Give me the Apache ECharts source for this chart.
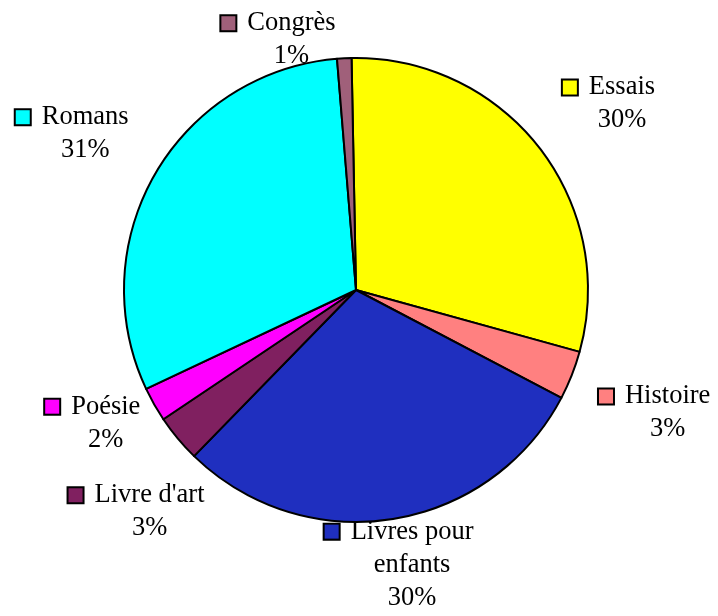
<!DOCTYPE html>
<html><head><meta charset="utf-8">
<script src="https://cdn.jsdelivr.net/npm/echarts@6/dist/echarts.min.js"></script>
<style>html,body{margin:0;padding:0;background:#fff}#c{width:718px;height:616px}</style>
</head><body><div id="c"></div>
<script>
// ---- data ----
const categories = ['Essais', 'Histoire', 'Livres pour enfants', "Livre d'art", 'Poésie', 'Romans', 'Congrès'];
const shares = [29.6, 3.4, 29.6, 3.3, 2.4, 30.7, 1.0];

// ---- style ----
const colors = ['#FFFF00', '#FF8080', '#1F2FBF', '#802060', '#FF00FF', '#00FFFF', '#A0607A'];
const labelDist = [314, 323, 278, 312, 295, 324, 262];      // label distance from centre (px)
const labelNudge = [1.5, 0.8, 0.1, -5.5, 2.7, -1.2, -14.3]; // angular nudge (deg)
const CX = 356, CY = 290, R = 232, START = -1.1;            // START: deg clockwise from 12 o'clock
const FONT = 'Liberation Serif';
const MARK = 14, GAP = 12;

const total = shares.reduce((a, b) => a + b, 0);
const mids = []; let acc = 0;
shares.forEach(v => { mids.push(START + (acc + v / 2) / total * 360); acc += v; });

const rich = {
  n: { fontFamily: FONT, fontSize: 26.5, lineHeight: 33, color: '#000', align: 'center' },
  p: { fontFamily: FONT, fontSize: 26.5, lineHeight: 33, color: '#000', align: 'center' },
  g: { width: GAP, align: 'center' },
  s: { width: MARK + GAP, align: 'center' }
};
colors.forEach((c, i) => {
  rich['m' + i] = { width: MARK, height: MARK, backgroundColor: c, borderColor: '#000', borderWidth: 2, align: 'center' };
});

function wrapName(name) {
  if (name.length > 14 && name.indexOf(' ') > 0) {
    const k = name.lastIndexOf(' ');
    return [name.slice(0, k), name.slice(k + 1)];
  }
  return [name];
}

const chart = echarts.init(document.getElementById('c'), null, { renderer: 'canvas' });
chart.setOption({
  backgroundColor: '#fff',
  animation: false,
  series: [{
    type: 'pie',
    center: [CX, CY],
    radius: [0, R],
    startAngle: 90 - START,
    clockwise: true,
    avoidLabelOverlap: false,
    percentPrecision: 0,
    data: categories.map((n, i) => ({ name: n, value: shares[i], itemStyle: { color: colors[i] } })),
    itemStyle: { borderColor: '#000', borderWidth: 2 },
    emphasis: { disabled: true },
    labelLine: { show: false },
    label: {
      show: true,
      position: 'outside',
      rich: rich,
      formatter: function (p) {
        const lines = wrapName(p.name);
        let s = '{m' + p.dataIndex + '|}{g|}{n|' + lines[0] + '}';
        for (let k = 1; k < lines.length; k++) s += '\n{s|}{n|' + lines[k] + '}';
        s += '\n{s|}{p|' + p.percent + '%}';
        return s;
      }
    },
    labelLayout: function (params) {
      const i = params.dataIndex;
      const a = (mids[i] + labelNudge[i]) * Math.PI / 180;
      return {
        x: CX + labelDist[i] * Math.sin(a),
        y: CY - labelDist[i] * Math.cos(a),
        align: 'center',
        verticalAlign: 'middle'
      };
    }
  }]
});
</script>
</body></html>
